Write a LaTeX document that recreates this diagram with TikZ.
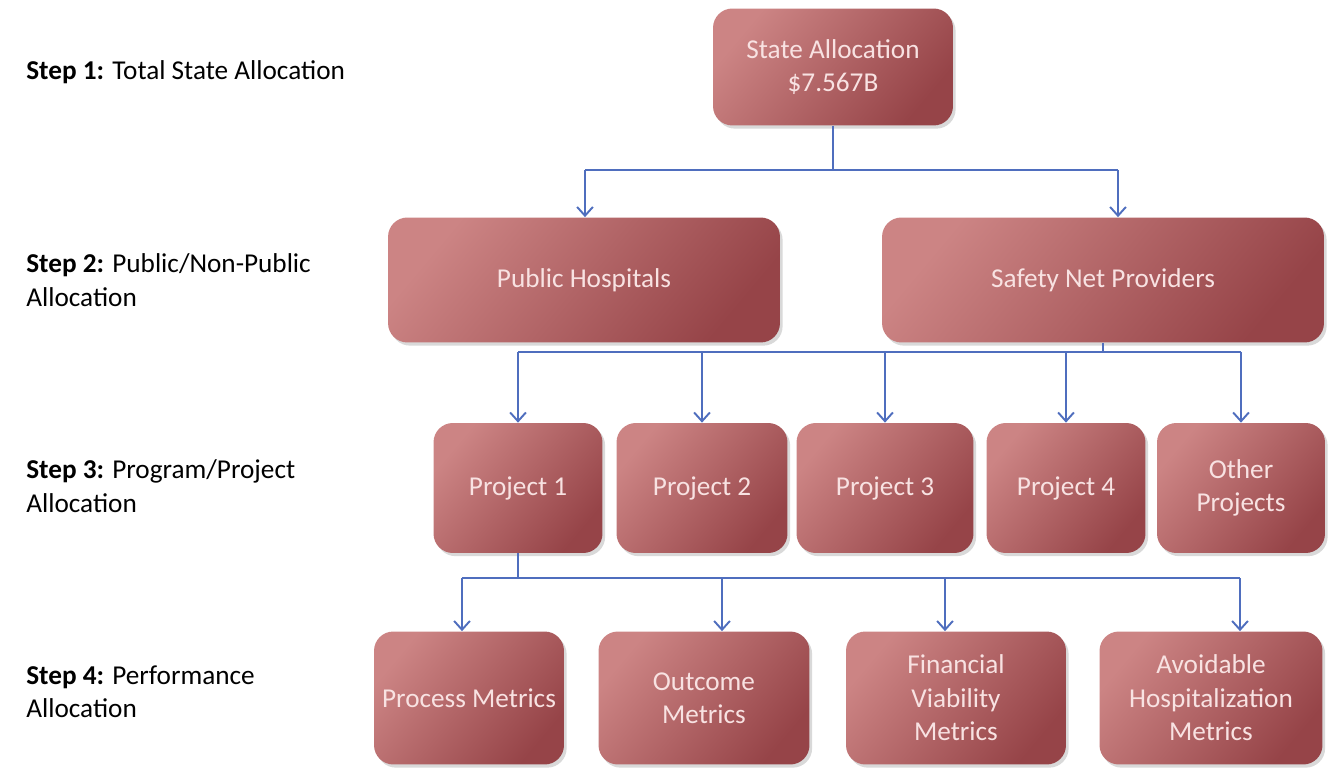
\documentclass[tikz,border=0pt]{standalone}
\usepackage{fontspec}
\setmainfont{Carlito}
\usetikzlibrary{arrows.meta,shadows}

\definecolor{boxlight}{RGB}{204,132,132}
\definecolor{boxdark}{RGB}{150,68,72}
\definecolor{boxtext}{RGB}{248,226,226}
\definecolor{linkblue}{RGB}{79,110,190}

\tikzset{
  box/.style={rounded corners=11pt,
    top color=boxlight, bottom color=boxdark, shading angle=50,
    drop shadow={shadow xshift=1.5pt, shadow yshift=-1.8pt, opacity=0.3},
    text=boxtext, align=center, font=\fontsize{15.5}{19}\selectfont},
  link/.style={draw=linkblue, line width=1.1pt},
  arr/.style={link, -{Straight Barb[length=5pt,width=9pt]}},
  steplabel/.style={anchor=west, align=left, inner sep=0pt,
    font=\fontsize{15.5}{19}\selectfont}
}

\begin{document}
\begin{tikzpicture}[x=0.02cm, y=-0.02cm]
  \useasboundingbox (0,0) rectangle (1329,780);

  % left column
  \node[steplabel] (s1) at (26,72) {\textbf{Step 1:} Total State Allocation};
  \node[steplabel] (s2) at (26,280) {\textbf{Step 2:} Public/Non-Public\\Allocation};
  \node[steplabel] (s3) at (26,486) {\textbf{Step 3:} Program/Project\\Allocation};
  \node[steplabel] (s4) at (26,692) {\textbf{Step 4:} Performance\\Allocation};

  % boxes
  \node[box, minimum width=4.80cm, minimum height=2.34cm] (state) at (833,67)
    {State Allocation\\\$7.567B};

  \node[box, minimum width=7.84cm, minimum height=2.50cm] (pub) at (584,280) {Public Hospitals};
  \node[box, minimum width=8.84cm, minimum height=2.50cm] (snp) at (1103,280) {Safety Net Providers};

  \node[box, minimum width=3.38cm, minimum height=2.60cm] (p1) at (518,488) {Project 1};
  \node[box, minimum width=3.42cm, minimum height=2.60cm] (p2) at (702,488) {Project 2};
  \node[box, minimum width=3.54cm, minimum height=2.60cm] (p3) at (885,488) {Project 3};
  \node[box, minimum width=3.18cm, minimum height=2.60cm] (p4) at (1066,488) {Project 4};
  \node[box, minimum width=3.36cm, minimum height=2.60cm] (other) at (1241,488) {Other\\Projects};

  \node[box, minimum width=3.80cm, minimum height=2.66cm] (m1) at (469,698) {Process Metrics};
  \node[box, minimum width=4.22cm, minimum height=2.66cm] (m2) at (704,698) {Outcome\\Metrics};
  \node[box, minimum width=4.40cm, minimum height=2.66cm] (m3) at (956,698) {Financial\\Viability\\Metrics};
  \node[box, minimum width=4.46cm, minimum height=2.66cm] (m4) at (1211,698) {Avoidable\\Hospitalization\\Metrics};

  % connectors
  \coordinate (bus1) at (833,170);
  \draw[link] (state.south) -- (bus1);
  \draw[link] (585,170) -- (1118,170);
  \foreach \n/\x in {pub/585, snp/1118}
    \draw[arr] (\x,170) -- (\x,0 |- \n.north);

  \coordinate (bus2) at (1103,352);
  \draw[link] (snp.south) -- (bus2);
  \draw[link] (518,352) -- (1241,352);
  \foreach \n in {p1, p2, p3, p4, other}
    \draw[arr] (\n.north |- bus2) -- (\n.north);

  \coordinate (bus3) at (518,578);
  \draw[link] (p1.south) -- (bus3);
  \draw[link] (462,578) -- (1240,578);
  \foreach \n/\x in {m1/462, m2/722, m3/945, m4/1240}
    \draw[arr] (\x,578) -- (\x,0 |- \n.north);
\end{tikzpicture}
\end{document}
